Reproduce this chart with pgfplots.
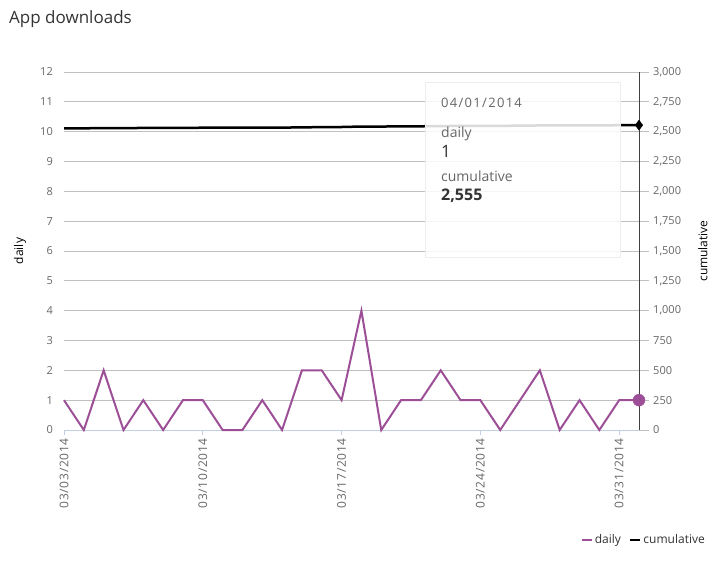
\documentclass[border=0pt]{standalone}
\usepackage{fontspec}
\setmainfont{Open Sans}
\usepackage{pgfplots}
\pgfplotsset{compat=1.18}
\definecolor{dailyc}{HTML}{9C4F96}
\definecolor{tickc}{HTML}{666666}
\definecolor{gridc}{HTML}{C0C0C0}
\definecolor{xaxisc}{HTML}{C0D0E0}
\definecolor{titlec}{HTML}{333333}
\begin{document}
\begin{tikzpicture}
\path[use as bounding box] (0pt,0pt) rectangle (722pt,562pt);
\node[anchor=base west, font=\fontsize{17}{20}\selectfont, text=titlec, inner sep=0pt] at (9pt,538pt) {App downloads};
\begin{axis}[
  at={(64pt,132pt)}, anchor=south west, scale only axis,
  width=575pt, height=358pt,
  xmin=0, xmax=29, ymin=0, ymax=12,
  clip=false,
  axis x line*=bottom, axis y line*=left,
  y axis line style={draw=none},
  x axis line style={xaxisc, line width=1pt, -},
  ytick={0,1,...,12},
  ytick style={draw=none},
  xtick={0,7,14,21,28},
  xticklabels={03/03/2014,03/10/2014,03/17/2014,03/24/2014,03/31/2014},
  xtick style={xaxisc, line width=1pt},
  tick align=outside, major tick length=5pt,
  ymajorgrids, major grid style={gridc, line width=0.8pt},
  /pgf/number format/assume math mode=true,
  tick label style={font=\fontsize{11}{13}\selectfont, text=tickc},
  xticklabel style={rotate=90, anchor=east, inner sep=3pt, font=\fontsize{12}{14}\selectfont\addfontfeatures{LetterSpace=6}},
  yticklabel style={inner sep=2pt, xshift=-4pt},
  ylabel={daily},
  every axis y label/.style={at={(axis description cs:-0.0765,0.5)}, rotate=90, anchor=center, font=\fontsize{12}{14}\selectfont},
  legend style={at={(axis description cs:1.1235,-0.307)}, anchor=east, draw=none, fill=none,
    legend columns=2, font=\fontsize{12}{14}\selectfont, text=titlec,
    /tikz/every even column/.append style={column sep=6pt}},
  legend image code/.code={\draw[#1, line width=2.5pt] (0pt,0pt) -- (10pt,0pt);},
]
\addplot[dailyc, line width=2pt, mark=none] coordinates {
(0,1) (1,0) (2,2) (3,0) (4,1) (5,0) (6,1) (7,1) (8,0) (9,0)
(10,1) (11,0) (12,2) (13,2) (14,1) (15,4) (16,0) (17,1) (18,1) (19,2)
(20,1) (21,1) (22,0) (23,1) (24,2) (25,0) (26,1) (27,0) (28,1) (29,1)
};
\addlegendentry{daily}
\addlegendimage{black}
\addlegendentry{cumulative}
\end{axis}
\begin{axis}[
  at={(64pt,132pt)}, anchor=south west, scale only axis,
  width=575pt, height=358pt,
  xmin=0, xmax=29, ymin=0, ymax=3000,
  clip=false,
  axis x line=none, axis y line*=right,
  y axis line style={black!75, line width=1pt, -},
  ytick={0,250,...,3000},
  ytick style={gridc, line width=0.8pt},
  tick align=outside, major tick length=10pt,
  /pgf/number format/assume math mode=true,
  /pgf/number format/1000 sep={,},
  tick label style={font=\fontsize{11}{13}\selectfont, text=tickc},
  yticklabel style={inner sep=2pt, xshift=2pt},
  ylabel={cumulative},
  every axis y label/.style={at={(axis description cs:1.111,0.5)}, rotate=90, anchor=center, font=\fontsize{12}{14}\selectfont},
]
\addplot[black, line width=2.5pt, mark=none] coordinates {
(0,2528) (1,2528) (2,2530) (3,2530) (4,2531) (5,2531) (6,2532) (7,2533) (8,2533) (9,2533)
(10,2534) (11,2534) (12,2536) (13,2538) (14,2539) (15,2543) (16,2543) (17,2544) (18,2545) (19,2547)
(20,2548) (21,2549) (22,2549) (23,2550) (24,2552) (25,2552) (26,2553) (27,2553) (28,2554) (29,2555)
};
\addplot[black, only marks, mark=diamond*, mark size=5pt] coordinates {(29,2555)};
\addplot[dailyc, only marks, mark=*, mark size=6pt] coordinates {(29,250)};
\end{axis}
\draw[black!7, fill=white, fill opacity=0.85] (425pt,305pt) rectangle (620pt,480pt);
\node[anchor=base west, inner sep=0pt, text=tickc, font=\fontsize{13}{15}\selectfont\addfontfeatures{LetterSpace=10}] at (441pt,454pt) {04/01/2014};
\node[anchor=base west, inner sep=0pt, text=tickc, font=\fontsize{14}{16}\selectfont] at (441pt,424pt) {daily};
\node[anchor=base west, inner sep=0pt, text=titlec, font=\fontsize{17}{19}\selectfont] at (441pt,404pt) {1};
\node[anchor=base west, inner sep=0pt, text=tickc, font=\fontsize{14}{16}\selectfont] at (441pt,380pt) {cumulative};
\node[anchor=base west, inner sep=0pt, text=titlec, font=\fontsize{16}{19}\selectfont\bfseries] at (441pt,361pt) {2,555};
\end{tikzpicture}
\end{document}
